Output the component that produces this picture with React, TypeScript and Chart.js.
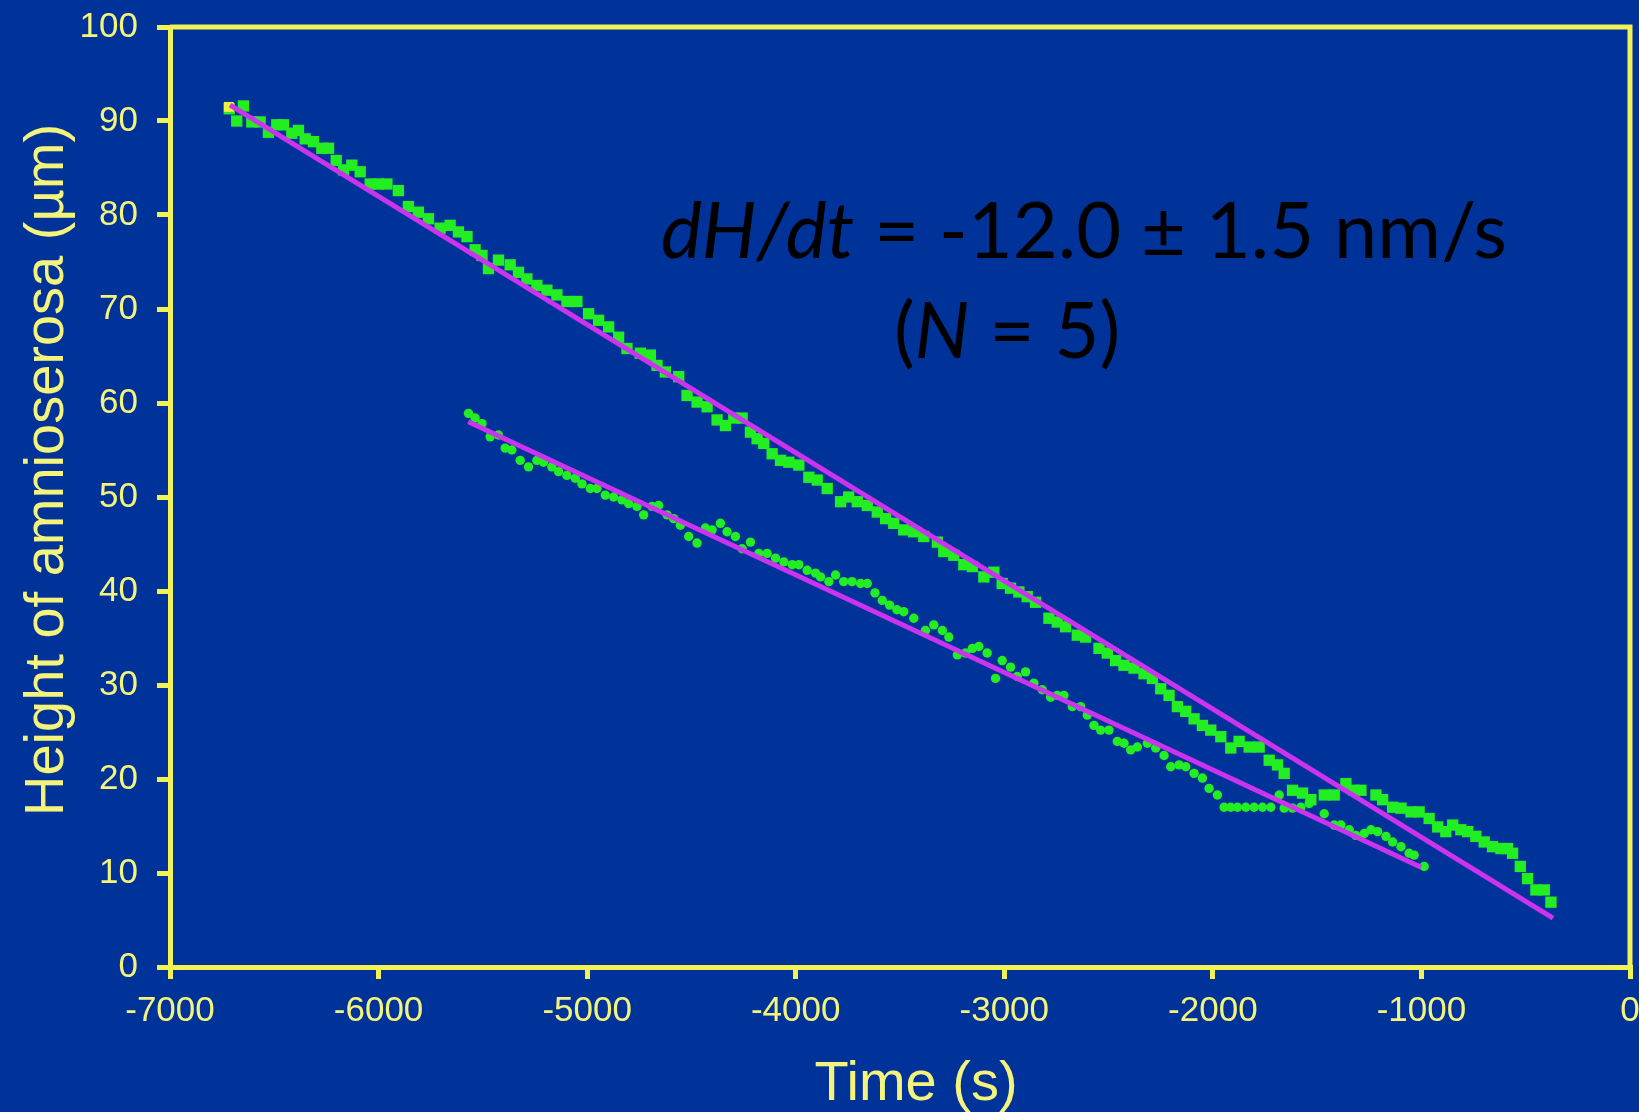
import React, { useEffect, useRef } from "react";
import { Chart, registerables } from "chart.js";

Chart.register(...registerables);

// ---- data (time in s, height in µm) ----
const squareTime = [
  -6716, -6680, -6648, -6608, -6568, -6528, -6488, -6456, -6416, -6384, -6352, -6312, -6272, -6240, -6203, -6168, -6128,
  -6088, -6040, -6001, -5960, -5905, -5857, -5809, -5761, -5705, -5657, -5617, -5576, -5537, -5504, -5473, -5425, -5369,
  -5329, -5289, -5241, -5193, -5145, -5097, -5049, -4993, -4945, -4897, -4849, -4809, -4745, -4697, -4665, -4625, -4561,
  -4521, -4473, -4425, -4377, -4337, -4297, -4257, -4217, -4185, -4153, -4113, -4073, -4033, -3985, -3937, -3897, -3849,
  -3785, -3746, -3705, -3657, -3609, -3569, -3530, -3482, -3434, -3386, -3321,
  -3290, -3242, -3194, -3153, -3098, -3050, -3010, -2970, -2930, -2890, -2850, -2786, -2746, -2706, -2650, -2610, -2546,
  -2506, -2466, -2426, -2378, -2330, -2290, -2250, -2210, -2170, -2130, -2090, -2050, -2010, -1962, -1914, -1874, -1826,
  -1778, -1730, -1690, -1658,
  -1618, -1570, -1530, -1466, -1418, -1362, -1323, -1290, -1218, -1186, -1138, -1098, -1050, -1011, -963, -922, -883,
  -850, -811, -778, -739, -699, -659, -619, -587, -563, -526, -491, -451, -411, -379,
];
const squareHeight = [
  91.3, 90.0, 91.6, 89.9, 89.9, 88.8, 89.6, 89.6, 88.7, 89.0, 88.1, 87.8, 87.1, 87.1, 85.8, 84.8, 85.3,
  84.6, 83.3, 83.3, 83.3, 82.6, 80.9, 80.3, 79.6, 78.6, 78.9, 78.2, 77.7, 76.3, 75.7, 74.3, 75.2, 74.7,
  73.9, 73.2, 72.5, 72.0, 71.5, 70.8, 70.8, 69.5, 68.8, 68.1, 67.0, 65.8, 65.3, 65.1, 64.0, 63.3, 62.8,
  60.8, 60.1, 59.6, 58.2, 57.6, 58.4, 58.4, 56.9, 56.2, 55.7, 54.6, 53.9, 53.7, 53.4, 52.1, 51.8, 50.9,
  49.5, 50.0, 49.5, 49.1, 48.4, 47.7, 47.2, 46.5, 46.3, 45.8, 45.2,
  44.2, 43.8, 42.8, 42.6, 41.5, 42.0, 40.8, 40.3, 39.9, 39.4, 38.8, 37.1, 36.7, 36.2, 35.3, 35.1, 33.9,
  33.4, 32.6, 32.1, 31.8, 31.2, 30.7, 29.6, 28.9, 27.7, 27.2, 26.4, 25.7, 25.2, 24.5, 23.3, 24.0, 23.4,
  23.4, 22.0, 21.5, 20.6,
  18.8, 18.5, 17.8, 18.3, 18.3, 19.5, 18.8, 18.8, 18.3, 17.8, 17.0, 16.9, 16.5, 16.5, 15.8, 14.9, 14.4,
  15.1, 14.6, 14.4, 13.9, 13.3, 12.8, 12.6, 12.6, 12.1, 10.7, 9.4, 8.2, 8.2, 6.9,
];

const circleTime = [
  -5569, -5537, -5504, -5465, -5425, -5393, -5361, -5321, -5281, -5241, -5209, -5169, -5137, -5097, -5057, -5025, -4985,
  -4953, -4913, -4873, -4833, -4801, -4761, -4729, -4689, -4657, -4617, -4585, -4553, -4513, -4473, -4433, -4401, -4361,
  -4329, -4289, -4257, -4217, -4177, -4137, -4097, -4057, -4017, -3985, -3945, -3905, -3881, -3841, -3809, -3770, -3730,
  -3689, -3657,
  -3620, -3585, -3550, -3515,
  -3482, -3434, -3378, -3338, -3297, -3266, -3225, -3186, -3153, -3122, -3082, -3042, -3010, -2970, -2938, -2898, -2858,
  -2818, -2778, -2746, -2714, -2674, -2634, -2602, -2570, -2538, -2498, -2458, -2426, -2394, -2362, -2314, -2274, -2234,
  -2202, -2162, -2130, -2090, -2050, -2018, -1978,
  -1946, -1914, -1882, -1842, -1802, -1762, -1722,
  -1682, -1658, -1618, -1578, -1538, -1466, -1418, -1386, -1346, -1314, -1274, -1242, -1210, -1170, -1138, -1098, -1059,
  -1035, -987,
];
const circleHeight = [
  58.9, 58.4, 57.8, 56.4, 56.6, 55.2, 55.0, 53.9, 53.2, 53.9, 53.7, 53.2, 52.7, 52.3, 52.0, 51.4, 50.9,
  50.9, 50.2, 50.0, 49.7, 49.3, 49.0, 48.1, 49.0, 49.1, 48.1, 47.7, 47.0, 45.8, 45.1, 46.7, 46.5, 47.2,
  46.3, 45.8, 44.5, 45.2, 44.0, 44.0, 43.5, 43.1, 42.8, 42.8, 42.2, 41.9, 41.5, 41.0, 41.7, 41.0, 41.0,
  40.8, 40.8,
  39.8, 39.0, 38.5, 38.0,
  37.8, 37.1, 35.8, 36.4, 35.8, 35.1, 33.2, 33.4, 33.9, 34.1, 33.4, 30.7, 32.6, 31.9, 30.9, 31.4, 30.2,
  29.5, 28.7, 28.9, 28.9, 27.7, 27.7, 26.8, 25.7, 25.2, 25.2, 24.0, 23.8, 23.1, 23.4, 23.8, 23.3, 22.5,
  21.3, 21.5, 21.3, 20.6, 20.1, 19.0, 18.3,
  17.0, 17.0, 17.0, 17.0, 17.0, 17.0, 17.0,
  18.3, 16.9, 16.9, 17.0, 17.4, 16.3, 15.1, 15.1, 14.6, 14.0, 14.2, 14.6, 14.4, 13.9, 13.3, 12.8, 12.1,
  11.9, 10.7,
];

const startTime = [-6718];
const startHeight = [91.5];

const fitUpperTime = [-6712, -369];
const fitUpperHeight = [91.7, 5.2];
const fitLowerTime = [-5570, -1002];
const fitLowerHeight = [58.0, 10.6];

const xTicks = [-7000, -6000, -5000, -4000, -3000, -2000, -1000, 0];
const yTicks = [0, 10, 20, 30, 40, 50, 60, 70, 80, 90, 100];

const xTitle = "Time (s)";
const yTitle = "Height of amnioserosa (µm)";
const rateLine = [
  { text: "dH/dt", italic: true },
  { text: " = -12.0 ± 1.5 nm/s", italic: false },
];
const nLine = [
  { text: "(", italic: false },
  { text: "N", italic: true },
  { text: " = 5)", italic: false },
];

// ---- styles ----
const W = 1639;
const H = 1112;
const BG = "#003399";
const AXIS = "#F2F255";
const TEXT = "#F4F47C";
const GREEN = "#22EE22";
const MAGENTA = "#CC33EE";
const TICK_FONT = '"Liberation Sans", Arial, sans-serif';
const ANN_FONT = 'Lato, "Open Sans", sans-serif';

const toPoints = (xs: number[], ys: number[]) => xs.map((x, i) => ({ x, y: ys[i] }));

const clearScalePadding = (s: any) => {
  s.paddingTop = 0;
  s.paddingBottom = 0;
  s.paddingLeft = 0;
  s.paddingRight = 0;
};

export default function App() {
  const ref = useRef<HTMLCanvasElement | null>(null);

  useEffect(() => {
    document.body.style.margin = "0";
    document.body.style.background = BG;
    const canvas = ref.current;
    if (!canvas) return;

    const framePlugin = {
      id: "frame",
      beforeDatasetsDraw(chart: any) {
        const { ctx, chartArea } = chart;
        ctx.save();
        ctx.strokeStyle = AXIS;
        ctx.lineWidth = 5;
        ctx.beginPath();
        ctx.moveTo(chartArea.left, chartArea.top);
        ctx.lineTo(chartArea.right, chartArea.top);
        ctx.lineTo(chartArea.right, chartArea.bottom);
        ctx.stroke();
        ctx.restore();
      },
    };

    const textPlugin = {
      id: "texts",
      afterDraw(chart: any) {
        const ctx = chart.ctx as CanvasRenderingContext2D;
        ctx.save();
        ctx.fillStyle = TEXT;
        ctx.font = `56px ${TICK_FONT}`;
        ctx.textAlign = "center";
        ctx.textBaseline = "alphabetic";
        ctx.fillText(xTitle, 916, 1100);
        ctx.save();
        ctx.translate(63, 470);
        ctx.rotate(-Math.PI / 2);
        ctx.fillText(yTitle, 0, 0);
        ctx.restore();

        const setFont = (italic: boolean, size: number) => {
          ctx.font = `${italic ? "italic " : ""}${size}px ${ANN_FONT}`;
        };
        const widthOf = (segs: { text: string; italic: boolean }[], size: number) =>
          segs.reduce((acc, s) => {
            setFont(s.italic, size);
            return acc + ctx.measureText(s.text).width;
          }, 0);
        const size = (100 * 846) / widthOf(rateLine, 100);
        const drawSegs = (segs: { text: string; italic: boolean }[], x0: number, baseline: number) => {
          let x = x0;
          ctx.textAlign = "left";
          segs.forEach((s) => {
            setFont(s.italic, size);
            ctx.fillText(s.text, x, baseline);
            x += ctx.measureText(s.text).width;
          });
        };
        ctx.fillStyle = "#000000";
        drawSegs(rateLine, 661, 258);
        const w2 = widthOf(nLine, size);
        drawSegs(nLine, 1007 - w2 / 2, 358);
        ctx.restore();
      },
    };

    const chart = new Chart(canvas, {
      type: "scatter",
      data: {
        datasets: [
          {
            type: "line",
            data: toPoints(fitUpperTime, fitUpperHeight),
            borderColor: MAGENTA,
            borderWidth: 5,
            pointRadius: 0,
            fill: false,
            order: 0,
          } as any,
          {
            type: "line",
            data: toPoints(fitLowerTime, fitLowerHeight),
            borderColor: MAGENTA,
            borderWidth: 5,
            pointRadius: 0,
            fill: false,
            order: 0,
          } as any,
          {
            data: toPoints(startTime, startHeight),
            pointStyle: "rect",
            pointRadius: 7,
            backgroundColor: "#F0F040",
            borderWidth: 0,
            order: 1,
          },
          {
            data: toPoints(squareTime, squareHeight),
            pointStyle: "rect",
            pointRadius: 8,
            backgroundColor: GREEN,
            borderWidth: 0,
            order: 2,
          },
          {
            data: toPoints(circleTime, circleHeight),
            pointStyle: "circle",
            pointRadius: 4.7,
            backgroundColor: GREEN,
            borderWidth: 0,
            order: 2,
          },
        ],
      },
      options: {
        responsive: false,
        devicePixelRatio: 1,
        animation: false,
        events: [],
        layout: { padding: { top: 27, right: 9, left: 0, bottom: 0 } },
        plugins: { legend: { display: false }, tooltip: { enabled: false } },
        scales: {
          x: {
            type: "linear",
            min: -7000,
            max: 0,
            afterBuildTicks: (s: any) => {
              s.ticks = xTicks.map((v) => ({ value: v }));
            },
            afterFit: (s: any) => {
              s.height = 145;
              clearScalePadding(s);
            },
            ticks: {
              color: TEXT,
              font: { family: TICK_FONT, size: 35 },
              padding: 11,
              maxRotation: 0,
              autoSkip: false,
              callback: (v: any) => String(v),
            },
            grid: {
              display: true,
              drawOnChartArea: false,
              drawTicks: true,
              tickLength: 12,
              tickColor: AXIS,
              tickWidth: 5,
              color: AXIS,
              lineWidth: 5,
            },
            border: { display: true, color: AXIS, width: 5 },
          },
          y: {
            type: "linear",
            min: 0,
            max: 100,
            afterBuildTicks: (s: any) => {
              s.ticks = yTicks.map((v) => ({ value: v }));
            },
            afterFit: (s: any) => {
              s.width = 170;
              clearScalePadding(s);
            },
            ticks: {
              color: TEXT,
              font: { family: TICK_FONT, size: 35 },
              padding: 19,
              autoSkip: false,
              callback: (v: any) => String(v),
            },
            grid: {
              display: true,
              drawOnChartArea: false,
              drawTicks: true,
              tickLength: 13,
              tickColor: AXIS,
              tickWidth: 5,
              color: AXIS,
              lineWidth: 5,
            },
            border: { display: true, color: AXIS, width: 5 },
          },
        },
      } as any,
      plugins: [framePlugin, textPlugin],
    });

    return () => chart.destroy();
  }, []);

  return (
    <div style={{ position: "fixed", left: 0, top: 0, width: W, height: H, background: BG }}>
      <canvas ref={ref} width={W} height={H} style={{ display: "block", width: W, height: H }} />
    </div>
  );
}
